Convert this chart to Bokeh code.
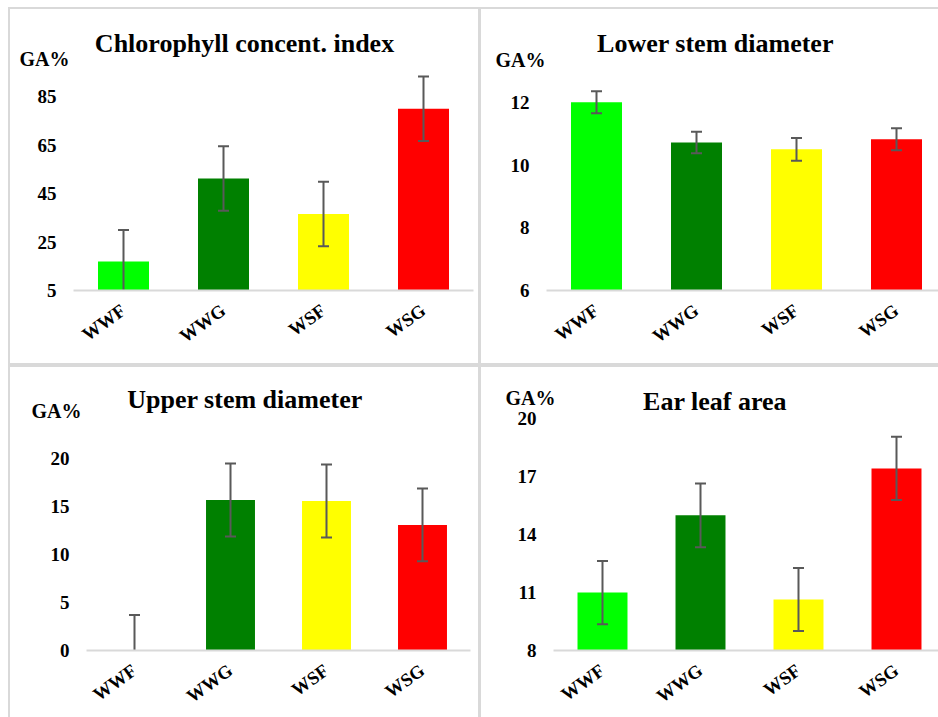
import math
from bokeh.plotting import figure
from bokeh.layouts import row, column
from bokeh.models import Spacer, FixedTicker, Range1d, LinearAxis
from bokeh.core.properties import value
from bokeh.embed import file_html
from bokeh.resources import INLINE

categories = ["WWF", "WWG", "WSF", "WSG"]
bar_colors = ["#00ff00", "#008000", "#ffff00", "#ff0000"]

chl_values = [17.0, 51.2, 36.5, 80.0]
chl_errors = [13.0, 13.3, 13.3, 13.3]
chl_ticks = [5, 25, 45, 65, 85]

lower_values = [12.0, 10.72, 10.5, 10.82]
lower_errors = [0.35, 0.34, 0.36, 0.35]
lower_ticks = [6, 8, 10, 12]

upper_values = [0.0, 15.7, 15.6, 13.1]
upper_errors = [3.7, 3.8, 3.8, 3.8]
upper_ticks = [0, 5, 10, 15, 20]

ear_values = [11.0, 15.0, 10.64, 17.43]
ear_errors = [1.64, 1.65, 1.63, 1.64]
ear_ticks = [8, 11, 14, 17, 20]

titles = ["Chlorophyll concent. index", "Lower stem diameter",
          "Upper stem diameter", "Ear leaf area"]
y_label = "GA%"

FONT = "Liberation Serif"
BORDER = "#d9d9d9"
ERR = "#595959"


def panel(title, values, errors, ticks, ymin, ymax, width, height,
          left, right, bottom, xmax, title_xy, ga_y, ga_standoff):
    xs = [i + 1 for i in range(len(categories))]
    p = figure(width=width, height=height, output_backend="svg",
               toolbar_location=None, title=None,
               x_range=Range1d(0.5, xmax), y_range=Range1d(ymin, ymax),
               min_border_left=left, min_border_right=right,
               min_border_top=0, min_border_bottom=bottom,
               styles={"background-color": "white"})
    p.background_fill_color = "white"
    p.border_fill_color = "white"
    p.outline_line_color = None
    p.xgrid.visible = False
    p.ygrid.visible = False

    p.vbar(x=xs, top=values, bottom=ymin, width=0.51, fill_color=bar_colors,
           line_color=None)
    lo = [v - e for v, e in zip(values, errors)]
    hi = [v + e for v, e in zip(values, errors)]
    p.segment(x0=xs, y0=lo, x1=xs, y1=hi, line_color=ERR, line_width=2)
    p.scatter(x=xs + xs, y=lo + hi, marker="dash", size=11,
              line_color=ERR, line_width=2)

    p.text(x=[title_xy[0]], y=[title_xy[1]], text=[title],
           text_font=value(FONT), text_font_style="bold",
           text_font_size="26px", text_align="center",
           text_baseline="middle", text_color="black")

    xa = p.xaxis[0]
    xa.ticker = FixedTicker(ticks=xs)
    xa.major_label_overrides = {x: c for x, c in zip(xs, categories)}
    xa.major_label_orientation = 0.62
    xa.major_label_text_font = FONT
    xa.major_label_text_font_style = "bold"
    xa.major_label_text_font_size = "18.5px"
    xa.major_label_text_color = "black"
    xa.major_tick_line_color = None
    xa.minor_tick_line_color = None
    xa.axis_line_color = BORDER
    xa.axis_line_width = 2
    xa.major_label_standoff = 12

    ya = p.yaxis[0]
    ya.ticker = FixedTicker(ticks=ticks)
    ya.major_label_standoff = 17
    ya.major_label_text_font_size = "19px"

    ga_axis = LinearAxis(ticker=FixedTicker(ticks=[ga_y]),
                         major_label_overrides={ga_y: y_label},
                         major_label_standoff=ga_standoff,
                         major_label_text_font_size="20px")
    p.add_layout(ga_axis, "left")

    for ax in p.yaxis:
        ax.major_label_text_font = FONT
        ax.major_label_text_font_style = "bold"
        ax.major_label_text_color = "black"
        ax.major_tick_line_color = None
        ax.minor_tick_line_color = None
        ax.axis_line_color = None
        ax.major_tick_out = 0
        ax.major_tick_in = 0
    return p


p1 = panel(titles[0], chl_values, chl_errors, chl_ticks, 5, 120.88,
           468, 354, 63, 5, 73, 4.5, (2.21, 106.86), 100.67, -35)
p2 = panel(titles[1], lower_values, lower_errors, lower_ticks, 6, 14.96,
           457, 354, 65, 0, 73, 4.42, (2.19, 13.88), 13.34, -38)
p3 = panel(titles[2], upper_values, upper_errors, upper_ticks, 0, 29.52,
           468, 350, 76, 8, 67, 4.5, (2.151, 26.19), 24.97, -34)
p4 = panel(titles[3], ear_values, ear_errors, ear_ticks, 8, 22.66,
           457, 350, 72, 0, 67, 4.4286, (2.148, 20.91), 21.10, -41)

grid = column(row(p1, p2, spacing=3), row(p3, p4, spacing=3), spacing=4)
inner = column(Spacer(width=930, height=2), row(Spacer(width=2, height=708), grid),
               styles={"background-color": BORDER})
layout = column(Spacer(width=938, height=7), row(Spacer(width=8, height=710), inner))

html = file_html(layout, INLINE)
html = html.replace("<head>", "<head><style>html,body{margin:0;padding:0;}</style>", 1)
open("out.html", "w").write(html)
